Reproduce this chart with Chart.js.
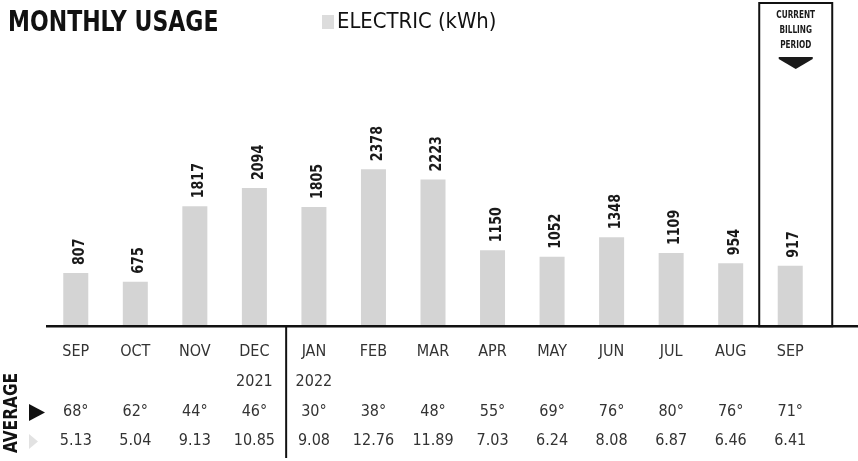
<!DOCTYPE html>
<html><head><meta charset="utf-8">
<script src="https://cdn.jsdelivr.net/npm/chart.js@4.4.0/dist/chart.umd.min.js"></script>
<style>html,body{margin:0;padding:0;background:#fff;overflow:hidden}#wrap{width:858px;height:461px;position:relative;overflow:hidden}canvas{display:block}</style>
</head><body><div id="wrap"><canvas id="c" width="858" height="461"></canvas></div>
<script>
const months = ['SEP','OCT','NOV','DEC','JAN','FEB','MAR','APR','MAY','JUN','JUL','AUG','SEP'];
const years = ['','','','2021','2022','','','','','','','',''];
const usageKwh = [807,675,1817,2094,1805,2378,2223,1150,1052,1348,1109,954,917];
const avgTempF = [68,62,44,46,30,38,48,55,69,76,80,76,71];
const avgDailyUse = [5.13,5.04,9.13,10.85,9.08,12.76,11.89,7.03,6.24,8.08,6.87,6.46,6.41];
const titleText = 'MONTHLY USAGE';
const legendText = 'ELECTRIC (kWh)';
const boxLines = ['CURRENT','BILLING','PERIOD'];
const sideLabel = 'AVERAGE';

const FONT = '"Liberation Sans Narrow", "DejaVu Sans Condensed", "Arial Narrow", sans-serif';
const tickLabels = months.map((m, i) => [m, years[i], avgTempF[i] + '°', avgDailyUse[i].toFixed(2)]);

function squeezeText(ctx, text, x, y, sx) {
  ctx.save();
  ctx.translate(x, y);
  ctx.scale(sx, 1);
  ctx.fillText(text, 0, 0);
  ctx.restore();
}

const decor = {
  id: 'decor',
  afterDatasetsDraw(chart) {
    const ctx = chart.ctx;
    const meta = chart.getDatasetMeta(0);
    ctx.save();
    ctx.fillStyle = '#1a1a1a';
    ctx.font = 'bold 16px ' + FONT;
    ctx.textAlign = 'left';
    ctx.textBaseline = 'middle';
    meta.data.forEach((bar, i) => {
      ctx.save();
      ctx.translate(bar.x + 4, bar.y - 8);
      ctx.rotate(-Math.PI / 2);
      squeezeText(ctx, String(usageKwh[i]), 0, 0, 0.88);
      ctx.restore();
    });
    ctx.restore();
  },
  afterDraw(chart) {
    const { ctx, chartArea: a, scales: { x } } = chart;
    ctx.save();
    ctx.strokeStyle = '#111';
    // baseline
    ctx.lineWidth = 2.5;
    ctx.beginPath(); ctx.moveTo(a.left, a.bottom); ctx.lineTo(chart.width, a.bottom); ctx.stroke();
    // year divider
    const xd = (x.getPixelForValue(3) + x.getPixelForValue(4)) / 2 + 2;
    ctx.lineWidth = 2;
    ctx.beginPath(); ctx.moveTo(xd, a.bottom); ctx.lineTo(xd, 458); ctx.stroke();
    // current billing period box
    const xl = x.getPixelForValue(12);
    ctx.strokeRect(xl - 31, 3, 73, a.bottom - 3);
    const bc = xl + 5.5;
    ctx.fillStyle = '#1a1a1a';
    ctx.font = 'bold 11px ' + FONT;
    ctx.textAlign = 'center';
    ctx.textBaseline = 'middle';
    boxLines.forEach((t, i) => squeezeText(ctx, t, bc, 15 + i * 15, 0.74));
    ctx.beginPath();
    ctx.moveTo(bc - 17, 57); ctx.lineTo(bc + 17, 57); ctx.lineTo(bc + 17, 59); ctx.lineTo(bc, 69); ctx.lineTo(bc - 17, 59); ctx.closePath();
    ctx.fill();
    // title
    ctx.textAlign = 'left';
    ctx.fillStyle = '#111';
    ctx.font = 'bold 29px ' + FONT;
    squeezeText(ctx, titleText, 8, 23, 0.845);
    // legend
    ctx.fillStyle = '#dcdcdc';
    ctx.fillRect(322, 15, 12, 14);
    ctx.fillStyle = '#111';
    ctx.font = '21px ' + FONT;
    squeezeText(ctx, legendText, 337, 23, 1.04);
    // AVERAGE side label
    ctx.save();
    ctx.translate(12, 413);
    ctx.rotate(-Math.PI / 2);
    ctx.font = 'bold 19px ' + FONT;
    ctx.textAlign = 'center';
    squeezeText(ctx, sideLabel, 0, 0, 0.9);
    ctx.restore();
    // row markers
    ctx.fillStyle = '#111';
    ctx.beginPath(); ctx.moveTo(29, 404); ctx.lineTo(29, 421); ctx.lineTo(45, 412.5); ctx.closePath(); ctx.fill();
    ctx.fillStyle = '#e2e2e2';
    ctx.beginPath(); ctx.moveTo(29, 434); ctx.lineTo(29, 449); ctx.lineTo(38, 441.5); ctx.closePath(); ctx.fill();
    ctx.restore();
  }
};

new Chart(document.getElementById('c'), {
  type: 'bar',
  data: {
    labels: tickLabels,
    datasets: [{
      label: legendText,
      data: usageKwh,
      backgroundColor: '#d4d4d4',
      borderWidth: 0,
      barPercentage: 0.42,
      categoryPercentage: 1
    }]
  },
  options: {
    responsive: false,
    maintainAspectRatio: false,
    animation: false,
    devicePixelRatio: 1,
    layout: { padding: { left: 46, right: 38, top: 10, bottom: 0 } },
    plugins: { legend: { display: false }, title: { display: false }, tooltip: { enabled: false } },
    scales: {
      x: {
        grid: { display: false, drawTicks: true, tickLength: 6 },
        border: { display: false },
        ticks: {
          color: '#333',
          padding: 5,
          autoSkip: false,
          maxRotation: 0,
          font: { family: FONT, size: 16, lineHeight: 1.855 }
        }
      },
      y: { display: false, min: 0, max: 4790 }
    }
  },
  plugins: [decor]
});
</script></body></html>
